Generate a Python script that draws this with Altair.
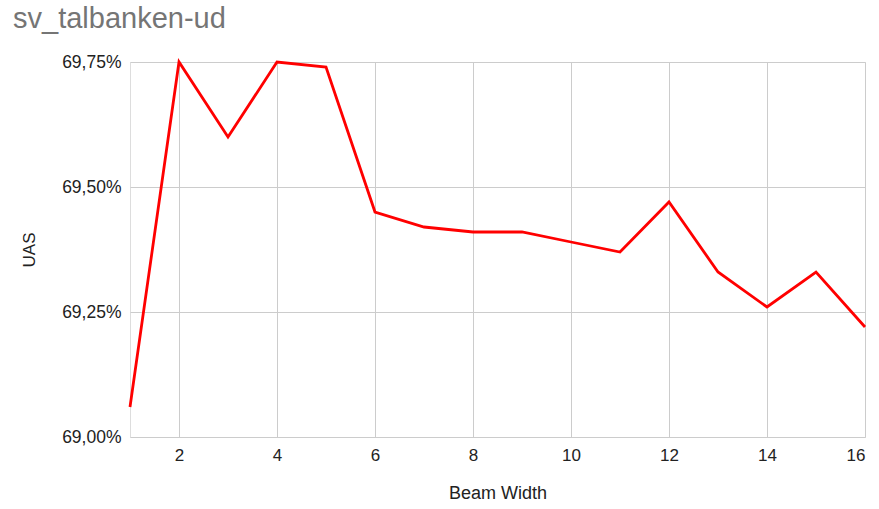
import altair as alt
import pandas as pd

# Beam width vs. unlabeled attachment score (UAS, percent)
beam_width = [1, 2, 3, 4, 5, 6, 7, 8, 9, 10, 11, 12, 13, 14, 15, 16]
uas = [69.06, 69.75, 69.60, 69.75, 69.74, 69.45, 69.42, 69.41,
       69.41, 69.39, 69.37, 69.47, 69.33, 69.26, 69.33, 69.22]

y_ticks = [69.00, 69.25, 69.50, 69.75]
x_ticks = [2, 4, 6, 8, 10, 12, 14, 16]

df = pd.DataFrame({"beam": beam_width, "uas": uas})

FONT = "Liberation Sans"

chart = (
    alt.Chart(df)
    .mark_line(color="#ff0000", strokeWidth=2.8, strokeJoin="miter", clip=False)
    .encode(
        x=alt.X(
            "beam:Q",
            title="Beam Width",
            scale=alt.Scale(domain=[1, 16], nice=False, zero=False),
            axis=alt.Axis(
                values=x_ticks,
                format="d",
                grid=True,
                gridColor="#cccccc",
                domain=False,
                ticks=False,
                labelPadding=10,
                labelFontSize=17,
                labelColor="#222222",
                labelFont=FONT,
                titleFont=FONT,
                titleFontSize=18,
                titleFontWeight="normal",
                titleColor="#222222",
                titlePadding=21,
            ),
        ),
        y=alt.Y(
            "uas:Q",
            title="UAS",
            scale=alt.Scale(domain=[69.0, 69.75], nice=False, zero=False),
            axis=alt.Axis(
                values=y_ticks,
                labelExpr="replace(format(datum.value, '.2f'), '.', ',') + '%'",
                grid=True,
                gridColor="#cccccc",
                domain=False,
                ticks=False,
                labelPadding=9,
                labelFontSize=17.5,
                labelColor="#222222",
                labelFont=FONT,
                titleFont=FONT,
                titleFontSize=17,
                titleFontWeight="normal",
                titleColor="#222222",
                titlePadding=23,
            ),
        ),
    )
    .properties(
        width=735,
        height=375,
        title=alt.TitleParams(
            "sv_talbanken-ud",
            anchor="start",
            frame="group",
            dx=-117,
            offset=19,
            fontSize=29,
            font=FONT,
            fontWeight="normal",
            color="#757575",
        ),
        autosize=alt.AutoSizeParams(type="none"),
        padding={"left": 130, "top": 62, "right": 14, "bottom": 72},
    )
    .configure_view(stroke=None)
    .configure(background="white")
)

chart.save("out.html", embed_options={"renderer": "svg", "actions": False})
